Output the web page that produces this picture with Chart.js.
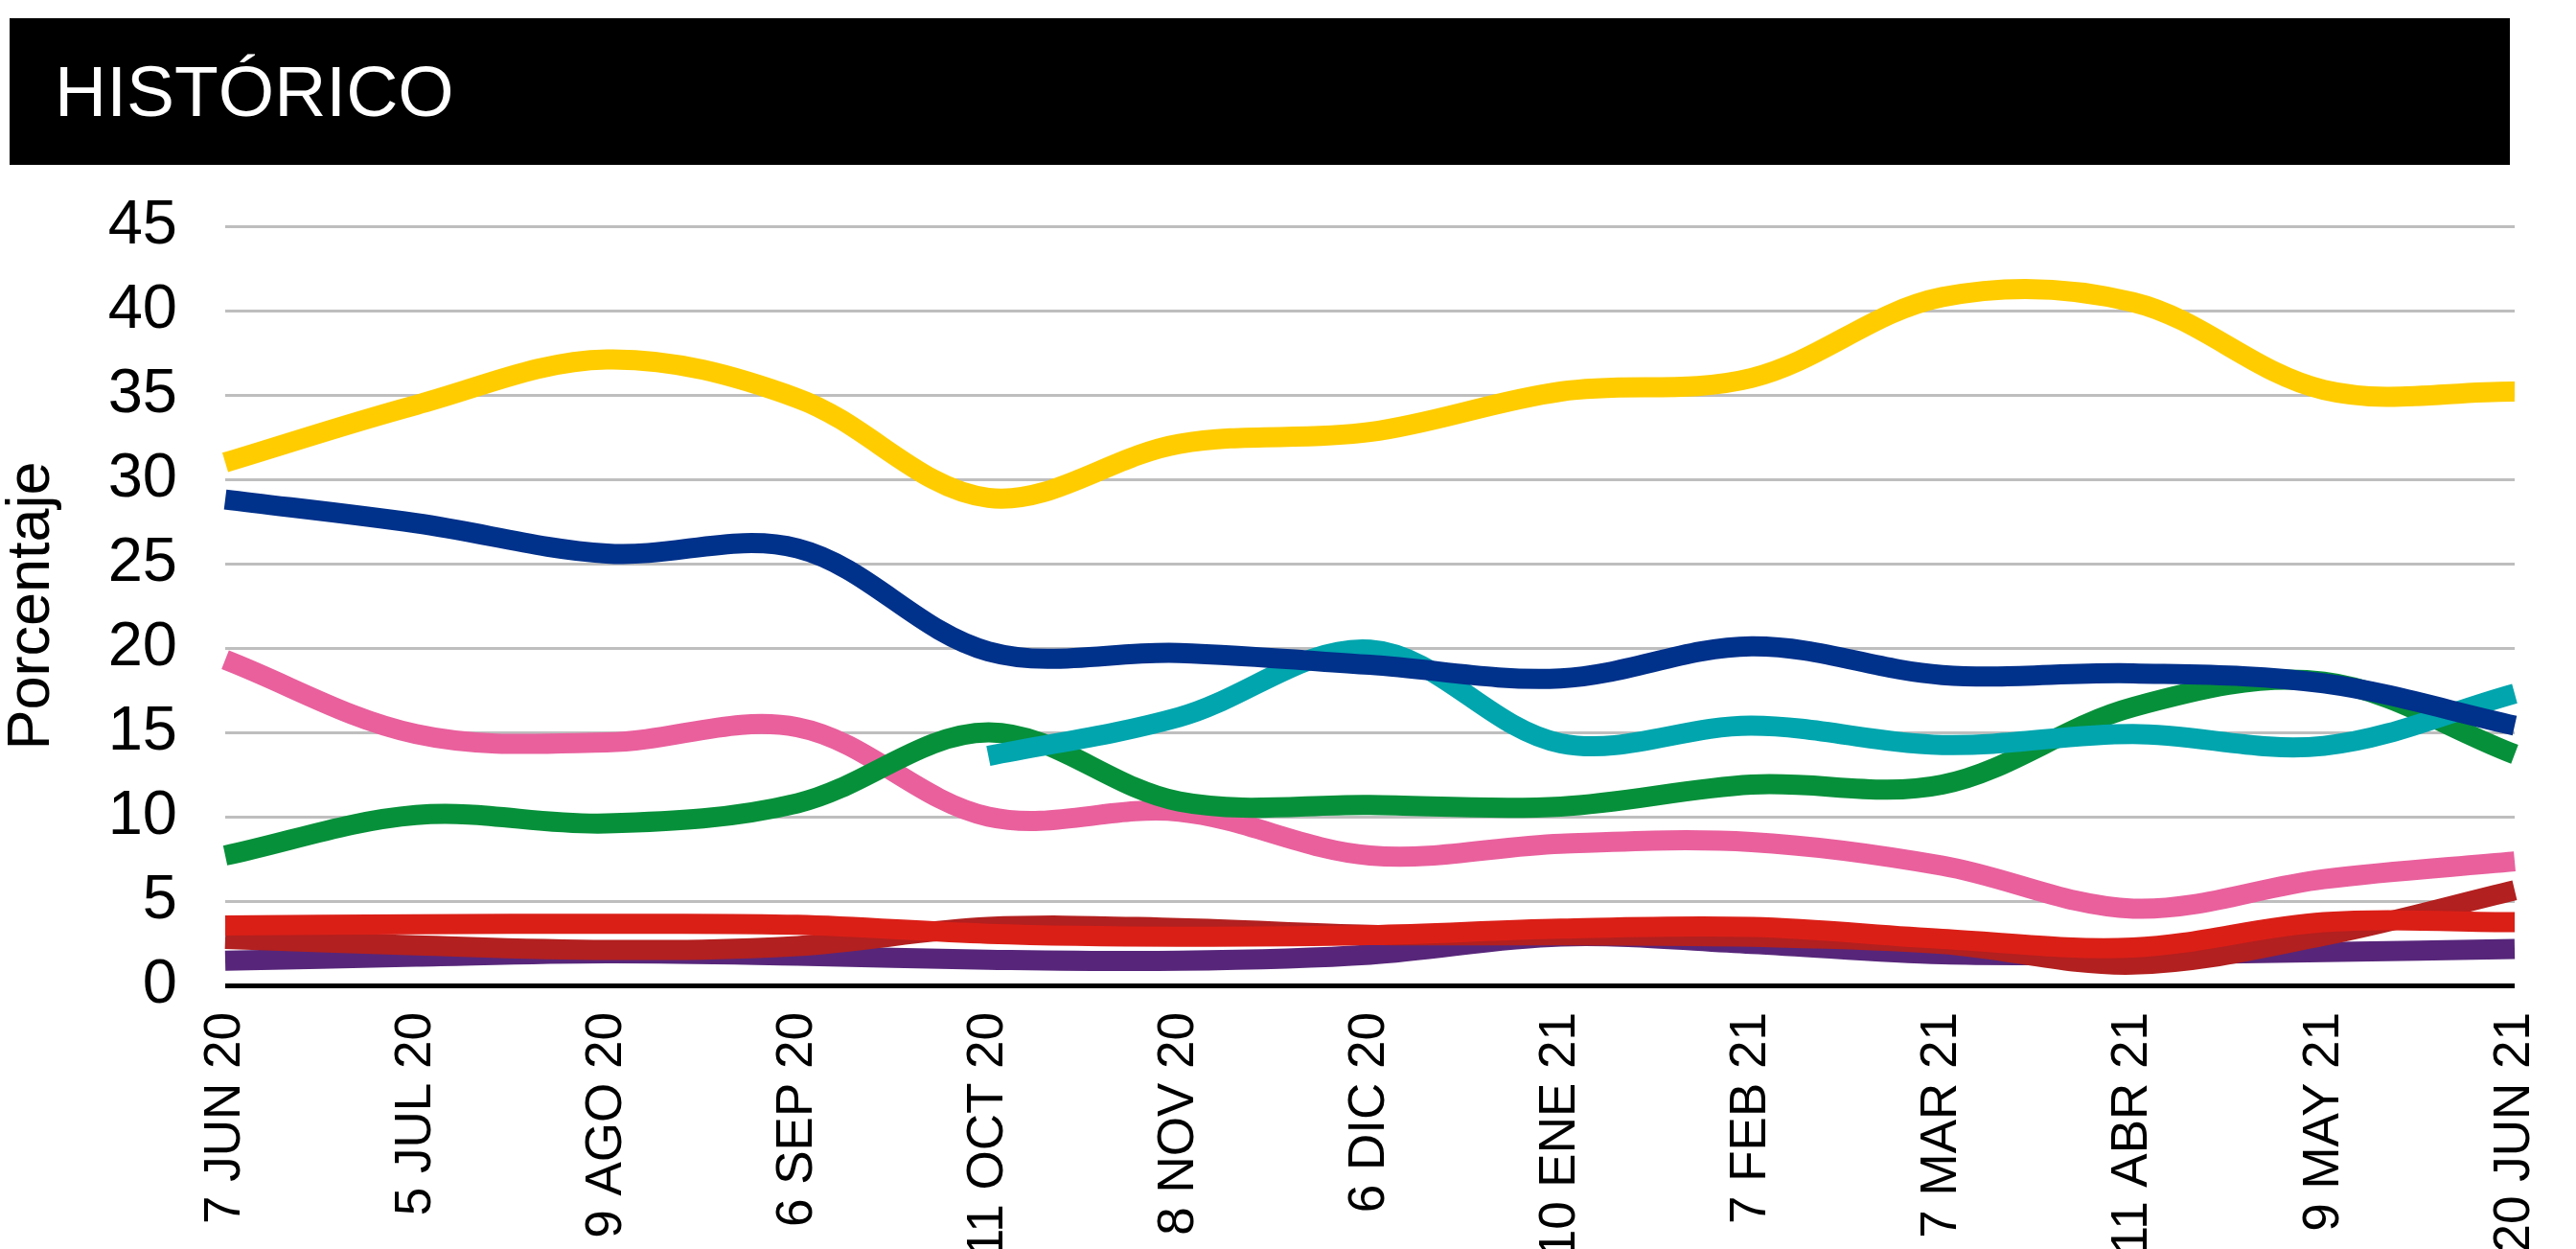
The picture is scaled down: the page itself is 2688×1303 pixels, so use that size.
<!DOCTYPE html>
<html>
<head>
<meta charset="utf-8">
<script src="https://cdn.jsdelivr.net/npm/chart.js@4"></script>
<style>
  html, body { margin: 0; padding: 0; background: #fff; }
  #wrap { position: relative; width: 2688px; height: 1303px; }
  #titulo {
    position: absolute; left: 10px; top: 19px; width: 2609px; height: 153px;
    background: #000; color: #fff;
    font-family: "Liberation Sans", Arial, sans-serif; font-size: 75px;
    line-height: 153px; padding-left: 47px; box-sizing: border-box;
  }
  #myChart { position: absolute; left: 0; top: 0; }
</style>
</head>
<body>
<div id="wrap">
  <canvas id="myChart" width="2688" height="1303"></canvas>
  <div id="titulo">HISTÓRICO</div>
</div>
<script>
// fechas de las encuestas (eje x)
const fechas = ['7 JUN 20', '5 JUL 20', '9 AGO 20', '6 SEP 20', '11 OCT 20', '8 NOV 20', '6 DIC 20',
  '10 ENE 21', '7 FEB 21', '7 MAR 21', '11 ABR 21', '9 MAY 21', '20 JUN 21'];

// porcentajes
const amarillo = [31.0, 34.4, 37.1, 34.8, 28.9, 32.1, 32.8, 35.2, 36.0, 40.8, 40.5, 35.3, 35.2];
const azul = [28.8, 27.4, 25.6, 25.9, 19.8, 19.7, 19.0, 18.2, 20.1, 18.4, 18.5, 17.9, 15.4];
const cian = [null, null, null, null, 13.6, 15.9, 19.9, 14.35, 15.4, 14.25, 14.9, 14.2, 17.3];
const verde = [7.7, 10.1, 9.6, 10.8, 15.0, 10.9, 10.7, 10.6, 11.9, 11.9, 16.5, 18.0, 13.7];
const rosa = [19.3, 14.9, 14.4, 15.3, 10.0, 10.3, 7.7, 8.4, 8.5, 7.1, 4.55, 6.3, 7.35];
const rojo = [3.55, 3.62, 3.65, 3.59, 3.06, 2.89, 2.98, 3.36, 3.46, 2.75, 2.24, 3.75, 3.75];
const granate = [2.76, 2.37, 2.1, 2.33, 3.46, 3.4, 3.0, 2.97, 2.88, 2.46, 1.23, 2.94, 5.64];
const morado = [1.46, 1.7, 1.9, 1.76, 1.52, 1.46, 1.82, 2.9, 2.46, 1.84, 1.84, 1.97, 2.16];

// ticks del eje y
const yMin = 0, yMax = 45, yPaso = 5;

const fuente = '"Liberation Sans", Arial, sans-serif';

function serie(label, data, color) {
  return {
    label: label,
    data: data,
    borderColor: color,
    backgroundColor: color,
    borderWidth: 21,
    pointRadius: 0,
    tension: 0.35,
    fill: false
  };
}

const ctx = document.getElementById('myChart').getContext('2d');
const myChart = new Chart(ctx, {
  type: 'line',
  data: {
    labels: fechas,
    // el primero queda dibujado encima
    datasets: [
      serie('Amarillo', amarillo, '#FFCC00'),
      serie('Azul', azul, '#00318B'),
      serie('Cian', cian, '#00A5AE'),
      serie('Verde', verde, '#07903A'),
      serie('Rosa', rosa, '#E9609D'),
      serie('Rojo', rojo, '#DA1F17'),
      serie('Granate', granate, '#B2201F'),
      serie('Morado', morado, '#57267A')
    ]
  },
  options: {
    responsive: false,
    animation: false,
    devicePixelRatio: 1,
    layout: { padding: { top: 236, right: 64, bottom: 0, left: 0 } },
    plugins: {
      legend: { display: false },
      tooltip: { enabled: false }
    },
    scales: {
      x: {
        offset: false,
        grid: { display: false },
        border: { display: false },
        ticks: {
          autoSkip: false,
          minRotation: 90,
          maxRotation: 90,
          padding: 20,
          color: '#000',
          font: { family: fuente, size: 53 }
        },
        afterFit: (s) => {
          s.height = 275;
          // sin margen extra por las etiquetas giradas
          s.paddingLeft = 0;
          s.paddingRight = 0;
        }
      },
      y: {
        min: yMin,
        max: yMax,
        border: { display: false },
        grid: {
          drawTicks: false,
          color: (c) => c.tick && c.tick.value === 0 ? '#000' : '#BEBEBE',
          lineWidth: (c) => c.tick && c.tick.value === 0 ? 5 : 3
        },
        ticks: {
          stepSize: yPaso,
          padding: 50,
          color: '#000',
          font: { family: fuente, size: 65 }
        },
        title: {
          display: true,
          text: 'Porcentaje',
          color: '#000',
          padding: { top: -4, bottom: 0 },
          font: { family: fuente, size: 63 }
        },
        afterFit: (s) => { s.width = 235; }
      }
    }
  }
});
</script>
</body>
</html>
